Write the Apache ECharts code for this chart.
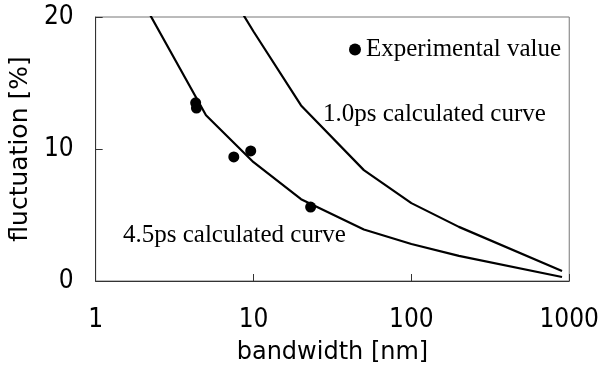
<!DOCTYPE html>
<html>
<head>
<meta charset="utf-8">
<script src="https://cdn.jsdelivr.net/npm/echarts@6/dist/echarts.min.js"></script>
<style>
  html, body { margin: 0; padding: 0; background: #fff; }
  #chart { width: 602px; height: 370px; }
</style>
</head>
<body>
<div id="chart"></div>
<script>
// bandwidth [nm] / fluctuation [%]
const curve45 = [[2, 21.1], [5, 12.55], [10, 9.0], [20, 6.2], [50, 3.9], [100, 2.8], [200, 1.9], [900, 0.3]];
const curve10 = [[8, 20.8], [10, 18.9], [20, 13.3], [50, 8.4], [100, 5.9], [200, 4.1], [900, 0.75]];
const experimental = [[4.3, 13.5], [4.35, 13.1], [7.5, 9.4], [9.6, 9.85], [23, 5.6]];
const yTicks = [0, 10, 20];

const sansFont = '"Liberation Sans Narrow", "DejaVu Sans Condensed", "Liberation Sans", sans-serif';
const serifFont = '"Liberation Serif", "DejaVu Serif", serif';

let chart = echarts.init(document.getElementById('chart'));
chart.setOption({
  animation: false,
  grid: {
    left: 90, right: 29, top: 17, bottom: 88,
    show: true,
    borderColor: '#777',
    borderWidth: 1
  },
  legend: {
    left: 344,
    top: 32,
    itemWidth: 12,
    itemHeight: 12,
    data: [{ name: 'Experimental value', icon: 'circle', itemStyle: { color: '#000', opacity: 1 } }],
    textStyle: { fontFamily: serifFont, fontSize: 25, color: '#000' }
  },
  xAxis: {
    type: 'log',
    logBase: 10,
    min: 1,
    max: 1000,
    name: 'bandwidth [nm]',
    nameLocation: 'middle',
    nameGap: 60,
    nameTextStyle: { fontFamily: '"DejaVu Sans", sans-serif', fontSize: 24, color: '#000' },
    axisLine: { lineStyle: { color: '#333', width: 1 } },
    axisTick: { inside: true, length: 7, lineStyle: { color: '#333' } },
    minorTick: { show: false },
    splitLine: { show: false },
    axisLabel: {
      margin: 26, fontFamily: sansFont, fontSize: 26, color: '#000',
      formatter: function (v) { return String(Math.round(v)); }
    }
  },
  yAxis: {
    type: 'value',
    min: yTicks[0],
    max: yTicks[yTicks.length - 1],
    interval: 10,
    name: 'fluctuation [%]',
    nameLocation: 'middle',
    nameGap: 60,
    nameTextStyle: { fontFamily: '"DejaVu Sans", sans-serif', fontSize: 25, color: '#000' },
    axisLine: { show: true, lineStyle: { color: '#333', width: 1 } },
    axisTick: { show: true, inside: true, length: 7, lineStyle: { color: '#333' } },
    splitLine: { show: false },
    axisLabel: { margin: 22, fontFamily: sansFont, fontSize: 26, color: '#000' }
  },
  graphic: [
    { type: 'text', left: 323, top: 102, style: { text: '1.0ps calculated curve', font: '25px ' + serifFont, fill: '#000' } },
    { type: 'text', left: 123, top: 223, style: { text: '4.5ps calculated curve', font: '25px ' + serifFont, fill: '#000' } }
  ],
  series: [
    {
      name: '4.5ps calculated curve',
      type: 'line',
      data: curve45,
      symbol: 'none',
      clip: true,
      lineStyle: { color: '#000', width: 2.2 }
    },
    {
      name: '1.0ps calculated curve',
      type: 'line',
      data: curve10,
      symbol: 'none',
      clip: true,
      lineStyle: { color: '#000', width: 2.2 }
    },
    {
      name: 'Experimental value',
      type: 'scatter',
      data: experimental,
      symbol: 'circle',
      symbolSize: 11,
      itemStyle: { color: '#000', opacity: 1 }
    }
  ]
});
</script>
</body>
</html>
